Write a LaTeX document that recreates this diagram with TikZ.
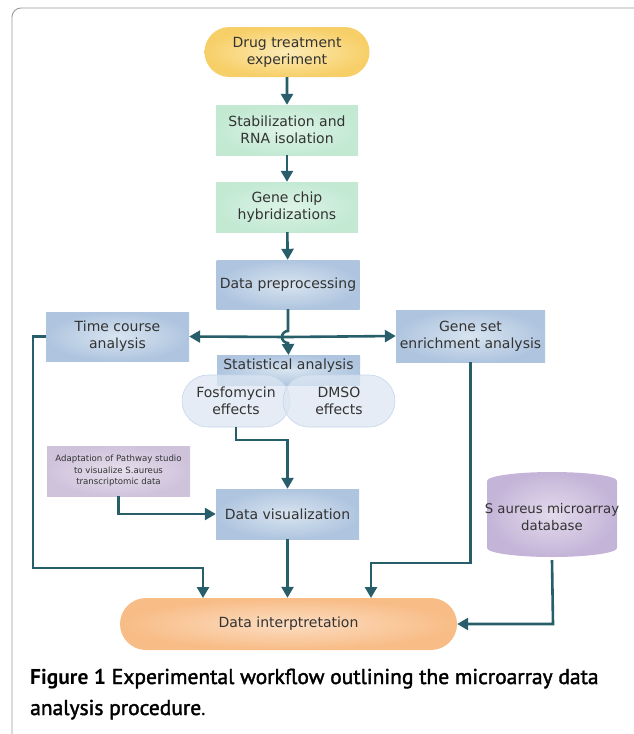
\documentclass[tikz,border=0pt]{standalone}
\usepackage{fontspec}
\setmainfont{DejaVu Sans}
\newfontfamily\capfont{PT Sans}
\newfontfamily\capmed[FakeBold=1.8]{PT Sans}
\usetikzlibrary{arrows.meta,shapes.misc,shapes.geometric}
\definecolor{conn}{HTML}{275E6A}
\definecolor{txt}{HTML}{333333}
\definecolor{yelO}{HTML}{F7CF68}
\definecolor{yelI}{HTML}{FCEBB5}
\definecolor{grnO}{HTML}{C3E9D3}
\definecolor{grnI}{HTML}{DDF4E7}
\definecolor{bluO}{HTML}{AFC5DF}
\definecolor{bluI}{HTML}{D8E4F0}
\definecolor{purO}{HTML}{CFC3DC}
\definecolor{purI}{HTML}{E6DFEC}
\definecolor{cylO}{HTML}{C4B4D8}
\definecolor{cylI}{HTML}{E3DBEC}
\definecolor{orgO}{HTML}{F8BC86}
\definecolor{orgI}{HTML}{FCDDC2}
\definecolor{effF}{HTML}{DCE6F2}
\definecolor{effD}{HTML}{C6D6EA}
\definecolor{frame}{HTML}{9A9A9A}
\begin{document}
\begin{tikzpicture}[x=1pt,y=-1pt,
  box/.style={rectangle, minimum width=143pt, minimum height=50pt, align=center, inner sep=0pt,
    text=txt, font=\fontsize{14}{17}\selectfont},
  gbox/.style={box, shade, inner color=grnI, outer color=grnO},
  bbox/.style={box, shade, inner color=bluI, outer color=bluO},
  pill/.style={rounded rectangle, align=center, inner sep=0pt, text=txt, font=\fontsize{14}{17}\selectfont},
  eff/.style={pill, minimum width=108pt, minimum height=52pt, fill=effF, fill opacity=0.75, text opacity=1, draw=effD, line width=0.6pt},
  arr/.style={draw=conn, line width=2.6pt, -{Triangle[width=12pt,length=11pt]}},
  ln/.style={draw=conn, line width=2.6pt}]
\useasboundingbox (0,0) rectangle (634,734);
% frame
\draw[frame, line width=0.9pt, rounded corners=9pt] (12,745) -- (12,8) -- (645,8) -- (645,745);

% nodes
\node[pill, minimum width=165pt, minimum height=50pt, shade, inner color=yelI, outer color=yelO] (drug) at (287,52) {Drug treatment\\experiment};
\node[gbox, minimum width=142pt] (stab) at (287,130) {Stabilization and\\RNA isolation};
\node[gbox, minimum width=142pt] (chip) at (287,207) {Gene chip\\hybridizations};
\node[bbox, minimum height=49pt] (pre) at (288,284.5) {Data preprocessing};
\node[bbox, minimum height=49pt] (tc) at (117.5,336.5) {Time course\\analysis};
\node[bbox, minimum width=149pt, minimum height=52pt] (gs) at (470.5,336) {Gene set\\enrichment analysis};
\node[bbox, minimum height=30pt, anchor=north] (stat) at (288.5,355) {};
\node[text=txt, font=\fontsize{14}{17}\selectfont] (statlbl) at (288.5,366) {Statistical analysis};
\node[eff] (fos) at (236,401) {Fosfomycin\\effects};
\node[eff, minimum width=112pt] (dmso) at (339,401) {DMSO\\effects};
\node[box, font=\fontsize{8.6}{11.5}\selectfont, shade, inner color=purI, outer color=purO] (adapt) at (118.5,471) {Adaptation of Pathway studio\\to visualize S.aureus\\transcriptomic data};
\node[bbox] (dv) at (287.5,514) {Data visualization};
\node[pill, minimum width=337pt, minimum height=52pt, shade, inner color=orgI, outer color=orgO] (di) at (288.5,624) {Data interptretation};

% cylinder
\shade[inner color=cylI, outer color=cylO] (487,481) -- (487,548) arc[start angle=180, end angle=360, x radius=65pt, y radius=9pt] -- (617,481) arc[start angle=0, end angle=180, x radius=65pt, y radius=9pt] -- cycle;
\node[minimum width=130pt, minimum height=86pt, inner sep=0pt, align=center, text=txt, font=\fontsize{13.3}{17}\selectfont] (db) at (552,517) {S aureus microarray\\database};

% connectors
\draw[arr] (drug) -- (stab);
\draw[arr] (stab) -- (chip);
\draw[arr] (chip) -- (pre);
\coordinate (jx) at (288,337);
\draw[arr] (jx) -- (tc.east);
\draw[arr] (jx) -- (gs.west);
\draw[arr] (pre.south) -- (288,331) arc[start angle=90, end angle=270, radius=6pt] -- (stat.north);
\coordinate (f1) at (236,440);
\draw[arr] (fos.south) -- (f1) -| (dv.north);
\draw[arr] (adapt.south) |- (dv.west);
\coordinate (t1) at (33,336.5);
\coordinate (t2) at (33,568);
\draw[arr] (tc.west) -- (t1) -- (t2) -| (203,598);
\draw[arr] (dv.south) -- (dv.south |- di.north);
\coordinate (g1) at (470.5,563);
\draw[arr] (gs.south) -- (g1) -| (371,598);
\coordinate (d1) at (553,624);
\draw[arr] (db.south) -- (d1) -- (di.east);

% caption
\node[anchor=base west, inner sep=0pt, font=\fontsize{21.5}{26}\selectfont\capfont, text=black] (cap1) at (30,684) {{\bfseries Figure 1} {\capmed Experimental workflow outlining the microarray data}};
\node[anchor=base west, inner sep=0pt, font=\fontsize{21.5}{26}\selectfont\capfont, text=black] (cap2) at (30,715) {{\capmed analysis procedure}.};
\end{tikzpicture}
\end{document}
